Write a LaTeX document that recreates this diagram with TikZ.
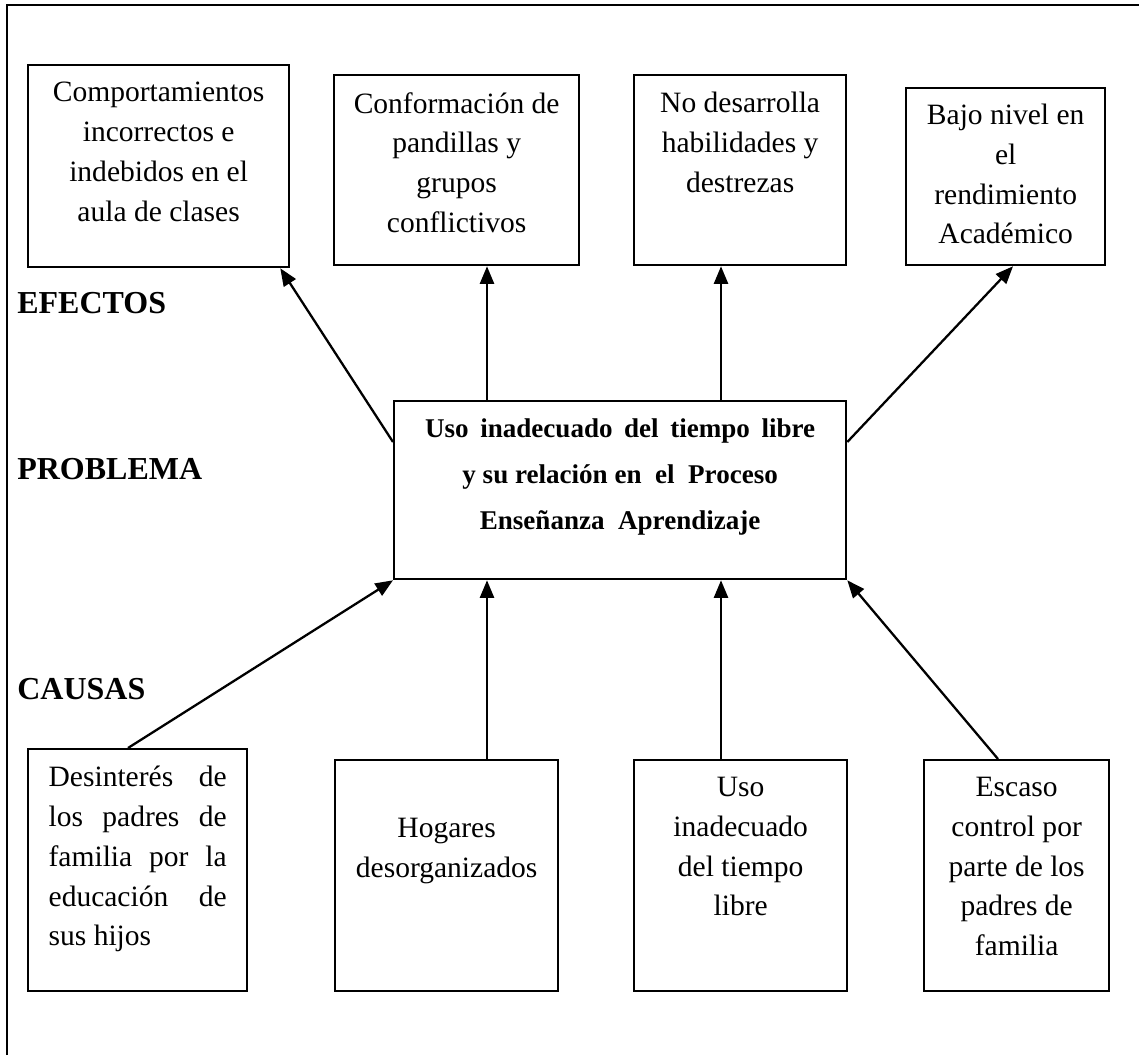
\documentclass[tikz,border=0pt]{standalone}
\usepackage{fontspec}
\setmainfont{Liberation Serif}
\usetikzlibrary{arrows.meta}

\tikzset{
  caja/.style={draw, line width=1.3pt, inner sep=0pt, anchor=north west},
  texto/.style={align=center, inner sep=0pt, anchor=north,
    font=\fontsize{16.8}{22.6}\selectfont},
  flecha/.style={line width=1.3pt, -{Triangle[length=10pt,width=8pt]}},
  titulo/.style={anchor=base west, inner sep=0pt,
    font=\fontsize{18.2}{21}\selectfont\bfseries}
}

\begin{document}
\begin{tikzpicture}[x=0.2mm, y=-0.2mm]
\useasboundingbox (0,0) rectangle (1139,1055);

% marco
\draw[line width=1.3pt] (7,1055) -- (7,5) -- (1139,5);

\node[titulo] (efectos) at (17,313) {EFECTOS};
\node[titulo] (problema) at (17,479) {PROBLEMA};
\node[titulo] (causas) at (17,699) {CAUSAS};

% efectos
\node[caja, minimum width=5.22cm, minimum height=4.04cm] (efecto1) at (27,64) {};
\node[caja, minimum width=4.9cm, minimum height=3.8cm] (efecto2) at (333,74) {};
\node[caja, minimum width=4.24cm, minimum height=3.8cm] (efecto3) at (633,74) {};
\node[caja, minimum width=3.98cm, minimum height=3.54cm] (efecto4) at (905,87) {};

\node[texto] (tefecto1) at ([yshift=-0.36cm]efecto1.north)
  {Comportamientos\\incorrectos e\\indebidos en el\\aula de clases};
\node[texto] (tefecto2) at ([yshift=-0.36cm]efecto2.north)
  {Conformación de\\pandillas y\\grupos\\conflictivos};
\node[texto] (tefecto3) at ([yshift=-0.36cm]efecto3.north)
  {No desarrolla\\habilidades y\\destrezas};
\node[texto] (tefecto4) at ([yshift=-0.34cm]efecto4.north)
  {Bajo nivel en\\el\\rendimiento\\Académico};

% problema
\node[caja, minimum width=9.04cm, minimum height=3.56cm] (centro) at (393,400) {};
\node[texto, font=\fontsize{15.4}{26.4}\selectfont\bfseries] (tcentro)
  at ([yshift=-0.36cm]centro.north)
  {\makebox[7.8cm][s]{Uso inadecuado del tiempo libre}\\
   y su relación en\ \ el\ \ Proceso\\
   Enseñanza\ \ Aprendizaje};

% causas
\node[caja, minimum width=4.38cm, minimum height=4.84cm] (causa1) at (27,748) {};
\node[caja, minimum width=4.46cm, minimum height=4.62cm] (causa2) at (334,759) {};
\node[caja, minimum width=4.26cm, minimum height=4.62cm] (causa3) at (633,759) {};
\node[caja, minimum width=3.7cm, minimum height=4.62cm] (causa4) at (923,759) {};

\node[texto, align=left] (tcausa1) at ([yshift=-0.36cm]causa1.north)
  {\makebox[3.56cm][s]{Desinterés de}\\
   \makebox[3.56cm][s]{los padres de}\\
   \makebox[3.56cm][s]{familia por la}\\
   \makebox[3.56cm][s]{educación de}\\
   sus hijos};
\node[texto] (tcausa2) at ([yshift=-1.18cm]causa2.north)
  {Hogares\\desorganizados};
\node[texto] (tcausa3) at ([yshift=-0.36cm]causa3.north)
  {Uso\\inadecuado\\del tiempo\\libre};
\node[texto] (tcausa4) at ([yshift=-0.36cm]causa4.north)
  {Escaso\\control por\\parte de los\\padres de\\familia};

% flechas
\coordinate (p1) at ([xshift=1.88cm]centro.north west);
\coordinate (p2) at ([xshift=6.56cm]centro.north west);

\draw[flecha] ([yshift=-0.84cm]centro.north west) -- ([xshift=-0.2cm]efecto1.south east);
\draw[flecha] (p1) -- (p1 |- efecto2.south);
\draw[flecha] (p2) -- (p2 |- efecto3.south);
\draw[flecha] ([yshift=-0.84cm]centro.north east) -- ([xshift=2.16cm]efecto4.south west);

\draw[flecha] ([xshift=2.02cm]causa1.north west) -- (centro.south west);
\draw[flecha] (p1 |- causa2.north) -- (p1 |- centro.south);
\draw[flecha] (p2 |- causa3.north) -- (p2 |- centro.south);
\draw[flecha] ([xshift=1.5cm]causa4.north west) -- (centro.south east);

\end{tikzpicture}
\end{document}
